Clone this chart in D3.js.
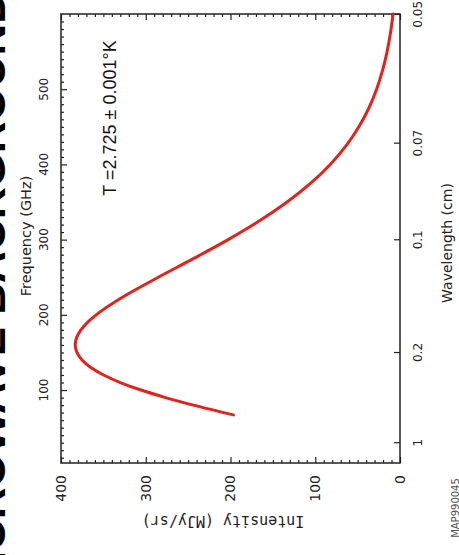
<!DOCTYPE html>
<html>
<head>
<meta charset="utf-8">
<script src="https://cdn.jsdelivr.net/npm/d3@7"></script>
<style>
  html, body { margin: 0; padding: 0; background: #fff; }
  svg { display: block; }
</style>
</head>
<body>
<svg id="chart"></svg>
<script>
// CMB spectrum (frequency in GHz, intensity in MJy/sr)
const freqGHz = [67, 80, 90, 100, 110, 120, 130, 140, 150, 160, 170, 180, 190, 200, 225, 250, 275, 300, 325, 350, 375, 400, 425, 450, 475, 500, 525, 550, 575, 600];
const intensity = [196.5, 243.9, 276.7, 305.6, 330.0, 349.7, 364.8, 375.2, 381.2, 383.2, 381.5, 376.5, 368.7, 358.5, 325.1, 285.2, 243.3, 202.8, 165.8, 133.2, 105.3, 82.3, 63.5, 48.5, 36.7, 27.6, 20.6, 15.2, 11.2, 8.2];

const intensityTicks = [0, 100, 200, 300, 400];
const freqTicks = [100, 200, 300, 400, 500];
const wavelengthTicks = [1, 0.2, 0.1, 0.07, 0.05];

const width = 459;
const height = 555;
// plot box (the figure is turned a quarter turn: frequency runs up the page)
const box = { left: 61, right: 400, top: 14, bottom: 463 };

const svg = d3.select("#chart").attr("width", width).attr("height", height);

const x = d3.scaleLinear().domain([0, 400]).range([box.right, box.left]);
const y = d3.scaleLinear().domain([3, 600]).range([box.bottom, box.top]);

// minor / major tick lists
const intensityMinor = d3.range(0, 401, 10).filter(function (d) { return d % 100 !== 0; });
const freqMinor = d3.range(10, 600, 10).filter(function (d) { return d % 100 !== 0; });

function drawTicks(axis, tx, ty) {
  const g = svg.append("g").attr("transform", "translate(" + tx + "," + ty + ")").call(axis);
  g.select(".domain").remove();
  g.selectAll(".tick line").attr("stroke", "#222").attr("stroke-width", 1.2);
  g.selectAll("text").remove();
  return g;
}

// intensity ticks on both long edges
drawTicks(d3.axisTop(x).tickValues(intensityTicks).tickSize(6), 0, box.bottom);
drawTicks(d3.axisTop(x).tickValues(intensityMinor).tickSize(3), 0, box.bottom);
drawTicks(d3.axisBottom(x).tickValues(intensityTicks).tickSize(6), 0, box.top);
drawTicks(d3.axisBottom(x).tickValues(intensityMinor).tickSize(3), 0, box.top);

// frequency ticks on the left edge
drawTicks(d3.axisRight(y).tickValues(freqTicks).tickSize(6), box.left, 0);
drawTicks(d3.axisRight(y).tickValues(freqMinor).tickSize(3), box.left, 0);

// wavelength ticks on the right edge (lambda = c / nu)
const wavePos = function (d) { return y(29.98 / d); };
svg.append("g")
  .selectAll("line")
  .data(wavelengthTicks)
  .enter()
  .append("line")
  .attr("x1", box.right)
  .attr("x2", box.right - 6)
  .attr("y1", wavePos)
  .attr("y2", wavePos)
  .attr("stroke", "#222")
  .attr("stroke-width", 1.2);

// frame
svg.append("rect")
  .attr("x", box.left)
  .attr("y", box.top)
  .attr("width", box.right - box.left)
  .attr("height", box.bottom - box.top)
  .attr("fill", "none")
  .attr("stroke", "#222")
  .attr("stroke-width", 1.5);

// curve
const line = d3.line()
  .x(function (d, i) { return x(intensity[i]); })
  .y(function (d) { return y(d); })
  .curve(d3.curveMonotoneY);

svg.append("path")
  .datum(freqGHz)
  .attr("d", line)
  .attr("fill", "none")
  .attr("stroke", "#e3231b")
  .attr("stroke-width", 3)
  .attr("stroke-linecap", "round");

const font = "'DejaVu Sans', sans-serif";

// intensity tick labels
svg.append("g")
  .selectAll("text")
  .data(intensityTicks)
  .enter()
  .append("text")
  .attr("transform", function (d) { return "translate(" + x(d) + "," + 475 + ") rotate(-90)"; })
  .attr("text-anchor", "end")
  .attr("dy", "0.35em")
  .style("font-family", font)
  .style("font-size", "14px")
  .style("fill", "#222")
  .text(function (d) { return d; });

// frequency tick labels
svg.append("g")
  .selectAll("text")
  .data(freqTicks)
  .enter()
  .append("text")
  .attr("transform", function (d) { return "translate(44," + y(d) + ") rotate(-90)"; })
  .attr("text-anchor", "middle")
  .attr("dy", "0.35em")
  .style("font-family", font)
  .style("font-size", "12px")
  .style("fill", "#222")
  .text(function (d) { return d; });

// wavelength tick labels
svg.append("g")
  .selectAll("text")
  .data(wavelengthTicks)
  .enter()
  .append("text")
  .attr("transform", function (d) { return "translate(418," + wavePos(d) + ") rotate(-90)"; })
  .attr("text-anchor", "middle")
  .attr("dy", "0.35em")
  .style("font-family", font)
  .style("font-size", "12px")
  .style("fill", "#222")
  .text(function (d) { return d; });

// axis titles
svg.append("text")
  .attr("transform", "translate(26,236) rotate(-90)")
  .attr("text-anchor", "middle")
  .attr("dy", "0.35em")
  .style("font-family", font)
  .style("font-size", "14.5px")
  .style("fill", "#222")
  .text("Frequency (GHz)");

svg.append("text")
  .attr("transform", "translate(447,243) rotate(-90)")
  .attr("text-anchor", "middle")
  .attr("dy", "0.35em")
  .style("font-family", font)
  .style("font-size", "14px")
  .style("fill", "#222")
  .text("Wavelength (cm)");

svg.append("text")
  .attr("transform", "translate(223,521) rotate(180)")
  .attr("text-anchor", "middle")
  .attr("dy", "0.35em")
  .style("font-family", "'DejaVu Sans Mono', monospace")
  .style("font-size", "15px")
  .style("fill", "#222")
  .text("Intensity (MJy/sr)");

// temperature note
svg.append("text")
  .attr("transform", "translate(110,118) rotate(-90)")
  .attr("text-anchor", "middle")
  .attr("dy", "0.35em")
  .style("font-family", "'Liberation Sans', Arial, sans-serif")
  .style("font-size", "18px")
  .style("fill", "#111")
  .text("T =2.725 \u00b1 0.001\u00b0K");

// page heading, mostly beyond the left edge as in the source scan
svg.append("text")
  .attr("transform", "translate(5,-8) rotate(-90)")
  .attr("text-anchor", "end")
  .style("font-family", "'Liberation Sans', Arial, sans-serif")
  .style("font-size", "44px")
  .style("font-weight", "bold")
  .style("fill", "#000")
  .text("MICROWAVE BACKGROUND");

// catalogue id
svg.append("text")
  .attr("transform", "translate(455,508) rotate(-90)")
  .attr("text-anchor", "middle")
  .attr("dy", "0.35em")
  .style("font-family", font)
  .style("font-size", "10px")
  .style("fill", "#555")
  .text("MAP990045");
</script>
</body>
</html>
